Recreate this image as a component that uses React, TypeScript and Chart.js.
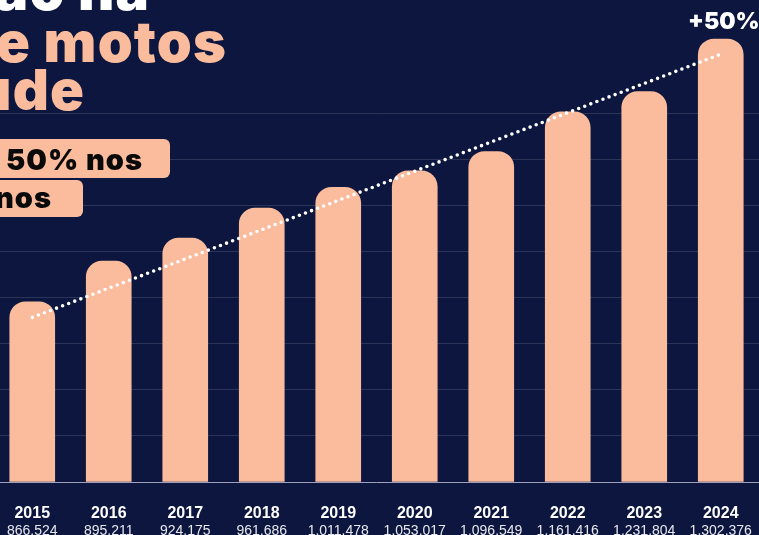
import React, { useEffect, useRef } from 'react';
import { Chart, registerables } from 'chart.js';

Chart.register(...registerables);

// ---- data ----
const years = ['2015', '2016', '2017', '2018', '2019', '2020', '2021', '2022', '2023', '2024'];
const fleetLabels = ['866.524', '895.211', '924.175', '961.686', '1.011.478', '1.053.017', '1.096.549', '1.161.416', '1.231.804', '1.302.376'];
// bar heights as drawn, in grid-line units
const barHeights = [3.91, 4.79, 5.29, 5.94, 6.39, 6.75, 7.17, 8.03, 8.47, 9.61];
// dotted trend line: only its two end points are given
const trendLine: (number | null)[] = [3.57, null, null, null, null, null, null, null, null, 9.28];
const growthLabel = '+50%';
const titleLines = ['ão na', 'e motos', 'ude'];
const calloutLines = ['50% nos', 'nos'];

const NAVY = '#0c163e';
const PEACH = '#fabc9d';
const HEAD_FONT = 'Inter, "DejaVu Sans", sans-serif';

export default function App() {
  const canvasRef = useRef<HTMLCanvasElement | null>(null);

  useEffect(() => {
    document.body.style.margin = '0';
    document.body.style.background = NAVY;
    const canvas = canvasRef.current;
    if (!canvas) return;

    const labelPlugin = {
      id: 'labelPlugin',
      afterDraw(chart: any) {
        const ctx = chart.ctx;
        const xs = chart.scales.x;
        ctx.save();
        ctx.textAlign = 'center';
        years.forEach((y, i) => {
          const x = xs.getPixelForValue(i);
          ctx.fillStyle = '#ffffff';
          ctx.font = 'bold 16px "Liberation Sans", Arial, sans-serif';
          ctx.textBaseline = 'alphabetic';
          ctx.fillText(y, x, 518);
          ctx.fillStyle = '#e8e8ee';
          ctx.font = '14px "Liberation Sans", Arial, sans-serif';
          ctx.fillText(fleetLabels[i], x, 535);
        });
        // growth label above last bar
        const meta = chart.getDatasetMeta(1);
        const last = meta.data[meta.data.length - 1];
        ctx.fillStyle = '#ffffff';
        ctx.font = '900 23px ' + HEAD_FONT;
        ctx.fillText(growthLabel, last.x + 3, 29);
        ctx.restore();
      },
    };

    const chart = new Chart(canvas, {
      type: 'bar',
      data: {
        labels: years,
        datasets: [
          {
            type: 'line',
            data: trendLine,
            borderColor: '#ffffff',
            borderWidth: 3.6,
            borderDash: [0, 6.5],
            borderCapStyle: 'round',
            pointRadius: 0,
            spanGaps: true,
            order: 0,
          } as any,
          {
            type: 'bar',
            data: barHeights,
            backgroundColor: PEACH,
            barThickness: 45,
            borderRadius: { topLeft: 16, topRight: 16, bottomLeft: 0, bottomRight: 0 },
            borderSkipped: 'bottom',
            order: 1,
          } as any,
        ],
      },
      options: {
        responsive: false,
        animation: false,
        layout: { padding: { top: 21, bottom: 53, left: 0, right: 0 } },
        plugins: { legend: { display: false }, tooltip: { enabled: false } },
        scales: {
          x: { display: false },
          y: {
            min: 0,
            max: 10,
            ticks: { display: false, stepSize: 1 },
            border: { display: false },
            grid: {
              drawTicks: false,
              lineWidth: 1,
              color: (c: any) =>
                c.tick.value === 0
                  ? 'rgba(195,195,220,0.8)'
                  : c.tick.value <= 8
                  ? 'rgba(255,255,255,0.13)'
                  : 'rgba(0,0,0,0)',
            },
          },
        },
      },
      plugins: [labelPlugin],
    });
    return () => chart.destroy();
  }, []);

  const titleStyle = (end: number, top: number, color: string): React.CSSProperties => ({
    position: 'absolute',
    left: -400,
    width: 400 + end + 1.2,
    top,
    textAlign: 'right',
    fontFamily: HEAD_FONT,
    fontWeight: 900,
    fontSize: 56,
    lineHeight: '56px',
    color,
    whiteSpace: 'nowrap',
    letterSpacing: '1.2px',
  });
  const calloutStyle = (end: number, top: number): React.CSSProperties => ({
    position: 'absolute',
    left: -400,
    width: 400 + end + 1,
    top,
    textAlign: 'right',
    fontFamily: HEAD_FONT,
    fontWeight: 900,
    fontSize: 29,
    lineHeight: '29px',
    color: '#0a0a0a',
    whiteSpace: 'nowrap',
    letterSpacing: '1px',
  });

  return (
    <div style={{ position: 'relative', width: 759, height: 535, overflow: 'hidden', background: NAVY }}>
      <canvas
        ref={canvasRef}
        width={765}
        height={535}
        style={{ position: 'absolute', left: -6, top: 0, width: 765, height: 535 }}
      />
      <div style={titleStyle(149, -38, '#ffffff')}>{titleLines[0]}</div>
      <div style={titleStyle(226, 14, PEACH)}>{titleLines[1]}</div>
      <div style={titleStyle(84, 62, PEACH)}>{titleLines[2]}</div>
      <div style={{ position: 'absolute', left: -20, top: 139, width: 190, height: 39, borderRadius: 6, background: PEACH }} />
      <div style={{ position: 'absolute', left: -20, top: 180, width: 103, height: 37, borderRadius: 6, background: PEACH }} />
      <div style={calloutStyle(142, 145)}>{calloutLines[0]}</div>
      <div style={calloutStyle(51, 183)}>{calloutLines[1]}</div>
    </div>
  );
}
